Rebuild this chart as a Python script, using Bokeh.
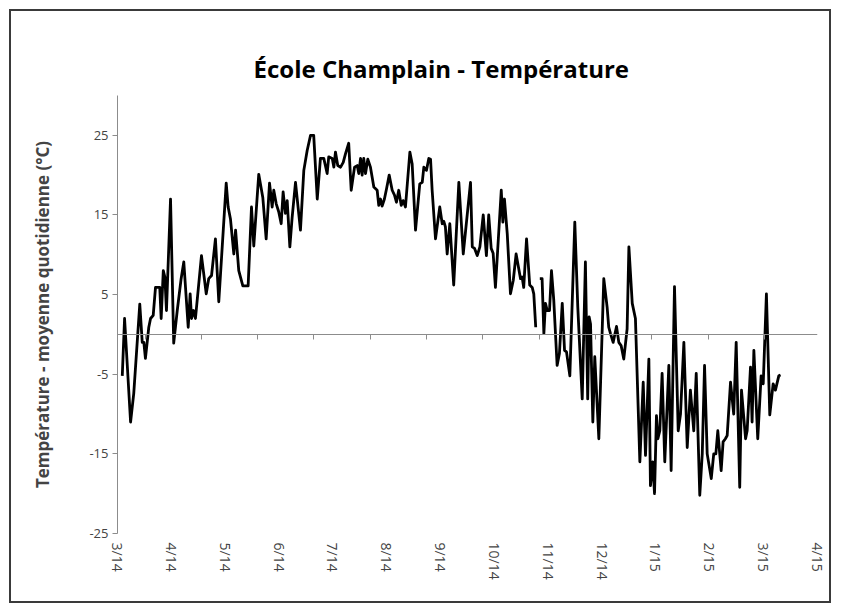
import math
from bokeh.plotting import figure
from bokeh.models import FixedTicker, LinearAxis, Range1d, Title
from bokeh.embed import file_html
from bokeh.resources import INLINE

# Day offset since 2014-03-01 for each reading, and daily mean temperature (°C)
days = [2.7, 4.0, 7.4, 9.2, 12.6, 14.0, 14.9, 15.8, 17.7, 18.7, 20.2, 21.5, 23.9, 24.7,
        25.9, 26.8, 27.7, 30.0, 31.8, 33.8, 36.0, 37.5, 40.0, 41.1, 41.9, 43.0, 44.1,
        47.5, 50.2, 51.6, 53.2, 55.4, 57.3, 61.5, 62.6, 63.9, 65.8, 66.8, 68.6, 70.9,
        73.9, 75.8, 77.1, 79.9, 82.2, 84.1, 86.0, 87.5, 88.4, 89.8, 91.2, 92.6, 93.7,
        95.0, 96.0, 97.5, 98.8, 100.7, 103.5, 105.4, 107.3, 109.2, 111.0, 113.0, 114.8,
        116.7, 118.6, 119.5, 121.5, 122.4, 123.3, 124.6, 126.2, 127.7, 129.0, 130.8,
        132.2, 134.1, 135.6, 136.5, 137.5, 138.4, 139.3, 140.3, 141.6, 143.1, 145.0,
        146.9, 147.8, 148.8, 149.7, 151.0, 152.2, 153.7, 155.4, 156.7, 157.8, 159.1,
        160.5, 161.6, 162.9, 165.4, 166.7, 168.6, 171.0, 172.4, 173.3, 174.8, 176.1,
        177.1, 178.0, 179.9, 182.3, 183.7, 184.6, 185.5, 186.5, 188.0, 190.2, 193.1,
        195.6, 199.7, 200.7, 202.0, 203.5, 205.0, 206.9, 208.7, 210.0, 211.4, 212.5,
        213.8, 217.1, 218.0, 218.9, 220.5, 222.3, 223.9, 225.5, 228.0, 228.9, 229.8,
        231.4, 233.2, 234.6, 235.5, 236.6, 237.7, 238.9, 240.2, 241.2, 242.1, 243.1,
        244.4, 245.5, 246.8, 248.7, 250.0, 251.6, 252.9, 254.0, 255.9, 258.7, 260.4,
        262.9, 264.7, 266.0, 266.8, 267.6, 268.9, 270.0, 272.3, 275.1, 277.0, 277.9,
        278.9, 280.4, 282.3, 283.6, 284.9, 286.4, 288.3, 289.3, 291.2, 293.0, 295.5,
        297.4, 298.7, 300.6, 301.5, 302.8, 303.8, 304.9, 305.7, 306.8, 308.1, 309.6,
        311.9, 313.2, 315.1, 317.2, 318.5, 320.4, 322.3, 324.1, 326.0, 327.4, 329.4,
        330.8, 332.1, 333.6, 335.9, 337.3, 338.5, 339.6, 341.5, 342.6, 343.9, 344.9,
        346.8, 348.6, 350.0, 352.0, 353.0, 355.3, 356.2, 358.1, 359.0, 360.0, 362.2,
        364.1, 365.3, 367.1, 369.0, 370.9, 372.2, 374.1, 375.1]
nan = float("nan")
temps = [-5.2, 2.0, -11.0, -7.4, 3.8, -1.0, -1.0, -3.0, 0.9, 2.0, 2.4, 5.9, 5.9, 2.0,
         8.0, 7.2, 3.0, 17.0, -1.1, 3.0, 7.0, 9.1, 0.9, 5.1, 2.0, 3.0, 2.0,
         9.9, 5.1, 7.0, 7.4, 12.0, 4.1, 19.0, 16.0, 14.5, 10.1, 13.1, 8.0, 6.1,
         6.1, 16.0, 11.1, 20.1, 17.2, 12.0, 19.0, 16.0, 18.1, 16.4, 15.4, 13.9, 17.9,
         15.2, 16.8, 11.0, 14.7, 19.1, 13.1, 20.6, 23.1, 25.0, 25.0, 17.0, 22.1,
         22.1, 20.2, 22.3, 22.1, 21.0, 22.9, 21.2, 21.0, 21.6, 22.7, 24.0,
         18.1, 21.0, 21.2, 20.2, 22.1, 20.0, 22.1, 20.2, 22.0, 21.0, 18.5,
         18.1, 16.2, 17.0, 16.1, 17.0, 18.3, 20.0, 18.1, 17.5, 16.6, 18.1,
         16.2, 16.8, 16.0, 22.9, 21.4, 13.1, 18.9, 19.1, 21.0, 20.6, 22.1,
         22.0, 18.1, 12.0, 16.0, 13.9, 14.2, 13.5, 10.1, 13.9, 6.2, 19.1,
         10.1, 19.1, 11.0, 10.8, 9.9, 11.0, 15.0, 9.9, 15.0, 10.8, 10.2,
         5.9, 18.1, 14.1, 17.0, 12.6, 5.1, 6.8, 10.1, 7.0, 7.2, 5.9,
         12.0, 6.2, 5.9, 5.1, 0.9, nan, 7.0, 7.0, 0.1, 3.9, 3.0,
         3.0, 8.0, 4.3, -3.9, -2.4, 3.9, -2.0, -2.2, -5.2, 14.1, 3.4,
         -8.1, 9.1, -8.1, 2.2, 1.3, -11.0, -2.8, -13.1, 7.0, 3.4, 0.9,
         0.1, -1.0, 1.0, -1.0, -1.4, -3.1, 0.7, 11.0, 3.9, 2.0, -16.0,
         -6.0, -15.2, -3.1, -19.0, -16.0, -20.0, -10.2, -13.1, -12.1, -4.9, -16.0,
         -3.9, -17.1, 6.0, -12.1, -10.0, -1.0, -14.2, -7.0, -12.1, -4.9, -20.2,
         -15.0, -3.9, -15.0, -18.1, -15.0, -15.0, -12.1, -17.1, -13.5, -13.1, -12.7,
         -6.0, -10.0, -1.0, -19.2, -7.0, -13.1, -12.1, -4.1, -11.0, -2.0, -13.1,
         -5.2, -6.2, 5.1, -10.1, -6.2, -7.0, -5.2, -5.1]

month_labels = ["3/14", "4/14", "5/14", "6/14", "7/14", "8/14", "9/14", "10/14",
                "11/14", "12/14", "1/15", "2/15", "3/15", "4/15"]
y_ticks = [-25, -15, -5, 5, 15, 25]

X_END = 396  # 2014-03-01 .. 2015-04-01
FONT = "Open Sans"
GRAY = "#8c8c8c"

# canvas placed at (11, 11) inside a 2px border drawn by CSS
p = figure(width=822, height=594, output_backend="svg", toolbar_location=None,
           x_range=Range1d(0, X_END), y_range=Range1d(-25, 30),
           x_axis_type=None, y_axis_type=None,
           min_border_left=106, min_border_right=16, min_border_top=84,
           min_border_bottom=72)
p.outline_line_color = None
p.xgrid.visible = False
p.ygrid.visible = False
p.background_fill_color = "white"
p.border_fill_color = "white"
p.styles = {"border": "2px solid #3a3a3a", "margin": "9px"}

# Title
p.add_layout(Title(text="École Champlain - Température", align="left",
                   text_font=FONT, text_font_size="24px", text_font_style="bold",
                   text_color="black", offset=136, standoff=21), "above")

# Left value axis
yax = LinearAxis(ticker=FixedTicker(ticks=y_ticks),
                 major_label_overrides={v: str(v) for v in y_ticks})
yax.axis_label = "Température - moyenne quotidienne (°C)"
yax.axis_label_text_font = FONT
yax.axis_label_text_font_size = "17px"
yax.axis_label_text_font_style = "bold"
yax.axis_label_standoff = 32
yax.major_label_text_font = FONT
yax.major_label_text_font_size = "13px"
yax.major_label_standoff = 4
yax.axis_line_color = GRAY
yax.major_tick_line_color = GRAY
yax.major_tick_out = 5
yax.major_tick_in = 0
yax.minor_tick_line_color = None
p.add_layout(yax, "left")

# Bottom month labels (no line, no ticks)
n = len(month_labels) - 1
label_pos = [X_END * i / n for i in range(n + 1)]
xax = LinearAxis(ticker=FixedTicker(ticks=label_pos),
                 major_label_overrides={pos: lab for pos, lab in zip(label_pos, month_labels)})
xax.axis_line_color = None
xax.major_tick_line_color = None
xax.minor_tick_line_color = None
xax.major_label_orientation = -math.pi / 2
xax.major_label_text_font = FONT
xax.major_label_text_font_size = "14px"
xax.major_label_standoff = 3
p.add_layout(xax, "below")

# Horizontal axis line crossing at 0
zero_ticks = [15.6 + 31.85 * k for k in range(12)]
zax = LinearAxis(ticker=FixedTicker(ticks=zero_ticks), fixed_location=0)
zax.axis_line_color = GRAY
zax.major_tick_line_color = GRAY
zax.major_tick_out = 5
zax.major_tick_in = 0
zax.minor_tick_line_color = None
zax.major_label_text_font_size = "0px"
zax.major_label_text_alpha = 0
p.add_layout(zax, "below")

p.line(days, temps, line_color="black", line_width=2.8, line_join="round")

open("out.html", "w").write(file_html(p, INLINE))
